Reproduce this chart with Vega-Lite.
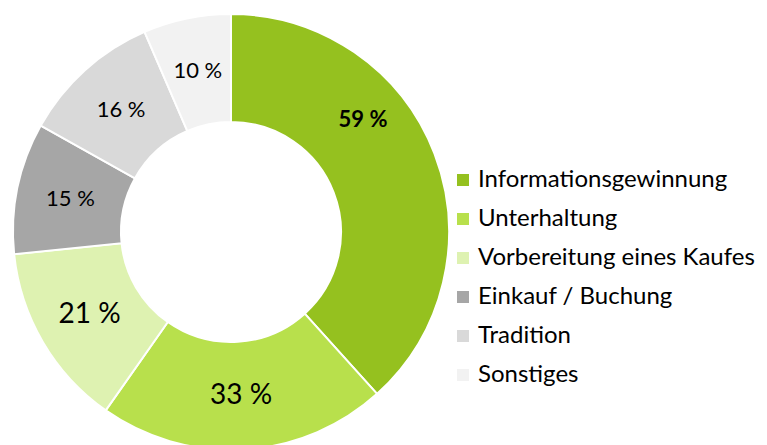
{
  "$schema": "https://vega.github.io/schema/vega-lite/v6.json",
  "width": 462,
  "height": 464,
  "padding": 0,
  "background": "white",
  "config": {"view": {"stroke": null}, "font": "Lato"},
  "data": {
    "values": [
      {"idx": 1, "category": "Informationsgewinnung", "value": 59, "label": "59 %"},
      {"idx": 2, "category": "Unterhaltung", "value": 33, "label": "33 %"},
      {"idx": 3, "category": "Vorbereitung eines Kaufes", "value": 21, "label": "21 %"},
      {"idx": 4, "category": "Einkauf / Buchung", "value": 15, "label": "15 %"},
      {"idx": 5, "category": "Tradition", "value": 16, "label": "16 %"},
      {"idx": 6, "category": "Sonstiges", "value": 10, "label": "10 %"}
    ]
  },
  "encoding": {
    "theta": {"field": "value", "type": "quantitative", "stack": true},
    "order": {"field": "idx", "type": "quantitative"}
  },
  "layer": [
    {
      "mark": {"type": "arc", "outerRadius": 218, "innerRadius": 110, "stroke": "white", "strokeWidth": 2},
      "encoding": {
        "color": {
          "field": "category",
          "type": "nominal",
          "sort": ["Informationsgewinnung", "Unterhaltung", "Vorbereitung eines Kaufes", "Einkauf / Buchung", "Tradition", "Sonstiges"],
          "scale": {
            "domain": ["Informationsgewinnung", "Unterhaltung", "Vorbereitung eines Kaufes", "Einkauf / Buchung", "Tradition", "Sonstiges"],
            "range": ["#95c11f", "#b8e04c", "#def2b1", "#a6a6a6", "#d9d9d9", "#f2f2f2"]
          },
          "legend": {
            "title": null,
            "orient": "none",
            "legendX": 451,
            "legendY": 168,
            "padding": 0,
            "symbolType": "square",
            "symbolSize": 144,
            "symbolStrokeWidth": 0,
            "labelFontSize": 24,
            "labelFont": "Lato",
            "labelColor": "#000000",
            "labelOffset": 3,
            "rowPadding": 15,
            "labelLimit": 400
          }
        }
      }
    },
    {
      "mark": {"type": "text", "radius": 164, "color": "black", "font": "Lato"},
      "encoding": {
        "text": {"condition": {"test": "datum.value == 59", "value": ""}, "field": "label"},
        "size": {"condition": {"test": "datum.value == 33 || datum.value == 21", "value": 28}, "value": 22}
      }
    },
    {
      "mark": {"type": "text", "radius": 164, "color": "black", "font": "Lato", "fontWeight": "bold", "fontSize": 22, "dx": -21, "dy": -53},
      "encoding": {
        "text": {"condition": {"test": "datum.value != 59", "value": ""}, "field": "label"}
      }
    }
  ]
}
